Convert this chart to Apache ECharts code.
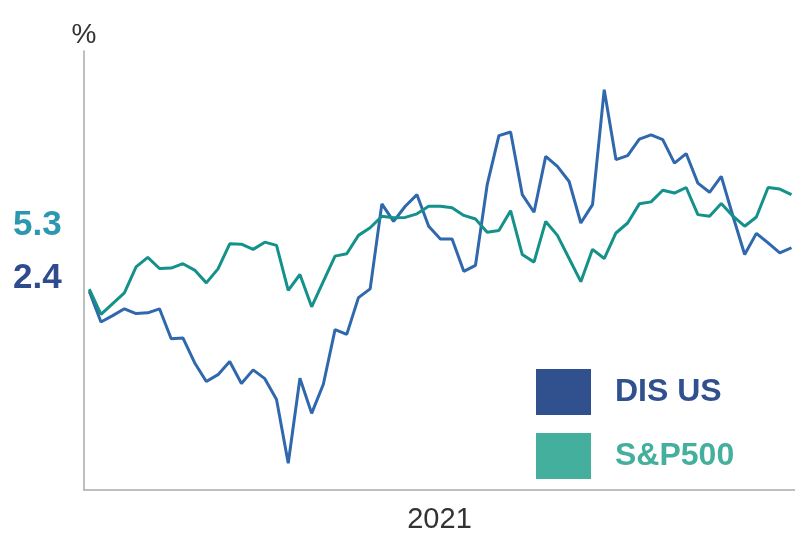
<!DOCTYPE html>
<html>
<head>
<meta charset="utf-8">
<script src="https://cdn.jsdelivr.net/npm/echarts@6/dist/echarts.min.js"></script>
<style>
  html, body { margin: 0; padding: 0; background: #fff; }
  #chart { width: 795px; height: 535px; }
</style>
</head>
<body>
<div id="chart"></div>
<script>
// cumulative return, % (weekly points)
const disUS = [-0.2, -7.9, -6.3, -4.6, -5.8, -5.6, -4.6, -12.1, -11.9, -18.1,
  -22.8, -21.1, -17.8, -23.3, -19.9, -22.1, -27.3, -43.3, -22, -30.8,
  -23.5, -9.8, -11, -1.8, 0.4, 21.7, 17.3, 21.1, 24, 16.1,
  12.9, 12.9, 4.8, 6.3, 26.5, 38.8, 39.7, 24, 19.6, 33.6,
  31.1, 27.3, 16.9, 21.5, 50.3, 32.8, 33.8, 37.9, 39, 37.8,
  31.9, 34.3, 26.9, 24.6, 28.6, 18.6, 9, 14.3, 11.9, 9.4, 10.7];
const sp500 = [0.3, -6, -3.3, -0.6, 5.9, 8.3, 5.5, 5.6, 6.7, 5.1,
  1.9, 5.4, 11.7, 11.6, 10.3, 12.1, 11.3, 0, 4, -4.1,
  2.3, 8.6, 9.2, 13.8, 15.7, 18.6, 18.2, 18.3, 19.2, 21.1,
  21.1, 20.7, 18.8, 17.9, 14.6, 15, 20, 9, 7.1, 17.3,
  13.8, 8, 2.2, 10.3, 8, 14.4, 16.9, 21.7, 22.2, 25.1,
  24.4, 25.8, 19, 18.6, 21.8, 18.6, 16.1, 18.4, 25.8, 25.4, 24];
const seriesNames = ['DIS US', 'S&P500'];
const yearLabel = '2021';
const sideLabels = ['5.3', '2.4'];

const font = '"Liberation Sans", Arial, Helvetica, sans-serif';
const toPairs = arr => arr.map((v, i) => [i, v]);

const chart = echarts.init(document.getElementById('chart'));
chart.setOption({
  animation: false,
  grid: { left: 84, right: 0, top: 51, bottom: 45, outerBoundsMode: 'none' },
  xAxis: {
    type: 'value',
    min: -0.45,
    max: 60.3,
    name: yearLabel,
    nameLocation: 'middle',
    nameGap: 15,
    nameTextStyle: { color: '#333', fontSize: 29, fontFamily: font, verticalAlign: 'top' },
    axisLine: { show: true, onZero: false, lineStyle: { color: '#aaa', width: 1.5 } },
    axisTick: { show: false },
    axisLabel: { show: false },
    splitLine: { show: false }
  },
  yAxis: {
    type: 'value',
    min: -50,
    max: 60,
    name: '%',
    nameLocation: 'end',
    nameGap: 2,
    nameTextStyle: { color: '#333', fontSize: 28, fontFamily: font, align: 'center' },
    axisLine: { show: true, onZero: false, lineStyle: { color: '#aaa', width: 1.5 } },
    axisTick: { show: false },
    axisLabel: { show: false },
    splitLine: { show: false }
  },
  legend: {
    orient: 'vertical',
    left: 536,
    top: 369,
    padding: 0,
    icon: 'rect',
    itemWidth: 55,
    itemHeight: 46,
    itemGap: 18,
    textStyle: { fontSize: 32, fontWeight: 'bold', fontFamily: font, padding: [0, 0, 0, 19] },
    data: [
      { name: seriesNames[0], itemStyle: { color: '#30508e' }, textStyle: { color: '#30508e' } },
      { name: seriesNames[1], itemStyle: { color: '#44af9c' }, textStyle: { color: '#44af9c' } }
    ]
  },
  graphic: [
    { type: 'text', left: 13, top: 208,
      style: { text: sideLabels[0], fill: '#2b98b0', font: 'bold 35px ' + font } },
    { type: 'text', left: 13, top: 261,
      style: { text: sideLabels[1], fill: '#2e4b8d', font: 'bold 35px ' + font } }
  ],
  series: [
    { name: seriesNames[0], type: 'line', data: toPairs(disUS), showSymbol: false,
      lineStyle: { color: '#2f68ac', width: 3 }, itemStyle: { color: '#2f68ac' }, z: 2 },
    { name: seriesNames[1], type: 'line', data: toPairs(sp500), showSymbol: false,
      lineStyle: { color: '#14918a', width: 3 }, itemStyle: { color: '#14918a' }, z: 3 }
  ]
});
</script>
</body>
</html>
